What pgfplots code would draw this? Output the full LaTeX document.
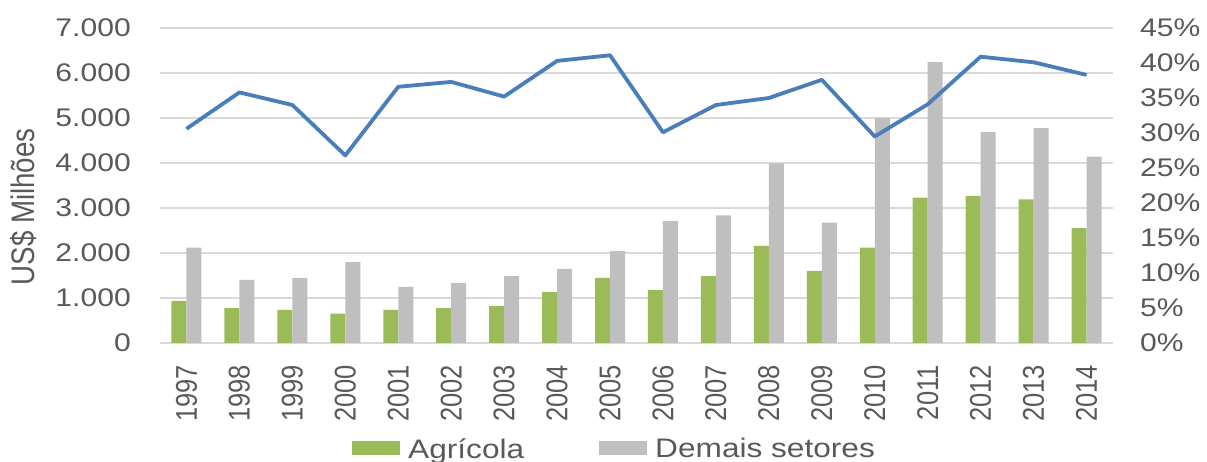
\documentclass[border=0pt]{standalone}
\usepackage{fontspec}
\setmainfont{Liberation Sans}[FakeStretch=1.18]
\newfontfamily\rotfont{Liberation Sans}[FakeStretch=0.85]
\usepackage{pgfplots}
\usepackage{pgfplotstable}
\pgfplotsset{compat=1.18}
\definecolor{txt}{HTML}{595959}
\definecolor{agri}{HTML}{9BBB59}
\definecolor{demais}{HTML}{BFBFBF}
\definecolor{share}{HTML}{4A7EBB}
\definecolor{gridc}{HTML}{D9D9D9}
\pgfplotsset{boxlegend/.style={legend image code/.code={\fill[##1] (0pt,-6pt) rectangle (48pt,8pt);}}}

\pgfplotstableread{
x agri demais share
0 935 2122 30.6
1 773 1403 35.8
2 735 1440 34.0
3 653 1797 26.8
4 735 1247 36.6
5 773 1330 37.3
6 817 1485 35.2
7 1129 1648 40.3
8 1448 2042 41.1
9 1174 2710 30.1
10 1485 2835 34.0
11 2160 3993 35.0
12 1604 2673 37.6
13 2122 5004 29.5
14 3229 6243 34.1
15 3267 4693 40.9
16 3192 4773 40.1
17 2555 4143 38.3
}\datatable

\begin{document}
\begin{tikzpicture}
\begin{axis}[
  name=main,
  scale only axis, width=953pt, height=315pt,
  xmin=-0.5, xmax=17.5, ymin=0, ymax=7000,
  ybar=0pt, bar width=15pt,
  xtick={0,...,17},
  xticklabels={1997,1998,1999,2000,2001,2002,2003,2004,2005,2006,2007,2008,2009,2010,2011,2012,2013,2014},
  ytick={0,1000,2000,3000,4000,5000,6000,7000},
  yticklabels={0,1.000,2.000,3.000,4.000,5.000,6.000,7.000},
  /pgf/number format/assume math mode=true,
  axis line style={draw=none}, tick style={draw=none}, major tick length=0pt, tick align=inside,
  ymajorgrids, grid style={gridc, line width=1.3pt},
  xticklabel style={rotate=90, anchor=east, inner sep=0pt, font=\rotfont\fontsize{30}{36}\selectfont, text=txt},
  xticklabel shift=22pt,
  yticklabel style={anchor=east, inner sep=0pt, font=\fontsize{25.5}{30}\selectfont, text=txt},
  yticklabel shift=29pt,
  ylabel={US\$ Milhões},
  ylabel style={at={(axis description cs:-0.1427,0.432)}, anchor=center, inner sep=0pt, font=\rotfont\fontsize{32.6}{38}\selectfont, text=txt},
  legend style={at={(axis description cs:0.2015,-0.302)}, anchor=north west, draw=none, fill=none, inner sep=0pt,
    font=\fontsize{26.8}{32}\selectfont, text=txt, nodes={inner sep=0pt},
    /tikz/every odd column/.append style={column sep=8pt},
    /tikz/every even column/.append style={column sep=75pt}},
  legend columns=2,
]
\addplot[fill=agri, draw=none, boxlegend] table[x=x,y=agri]{\datatable};
\addlegendentry{Agrícola}
\addplot[fill=demais, draw=none, boxlegend] table[x=x,y=demais]{\datatable};
\addlegendentry{Demais setores}
\end{axis}
\begin{axis}[
  scale only axis, width=953pt, height=315pt,
  xmin=-0.5, xmax=17.5, ymin=0, ymax=45,
  axis x line=none, axis y line*=right,
  axis line style={draw=none}, tick style={draw=none}, major tick length=0pt, tick align=inside,
  ytick={0,5,10,15,20,25,30,35,40,45},
  yticklabels={0\%,5\%,10\%,15\%,20\%,25\%,30\%,35\%,40\%,45\%},
  /pgf/number format/assume math mode=true,
  yticklabel style={anchor=west, inner sep=0pt, font=\fontsize{25.5}{30}\selectfont, text=txt},
  yticklabel shift=27pt,
]
\addplot[share, line width=3.8pt, line join=round, mark=none] table[x=x,y=share]{\datatable};
\end{axis}
\pgfresetboundingbox
\useasboundingbox ([shift={(-160pt,343pt)}]main.south west) rectangle ([shift={(1047pt,-119pt)}]main.south west);
\end{tikzpicture}
\end{document}
